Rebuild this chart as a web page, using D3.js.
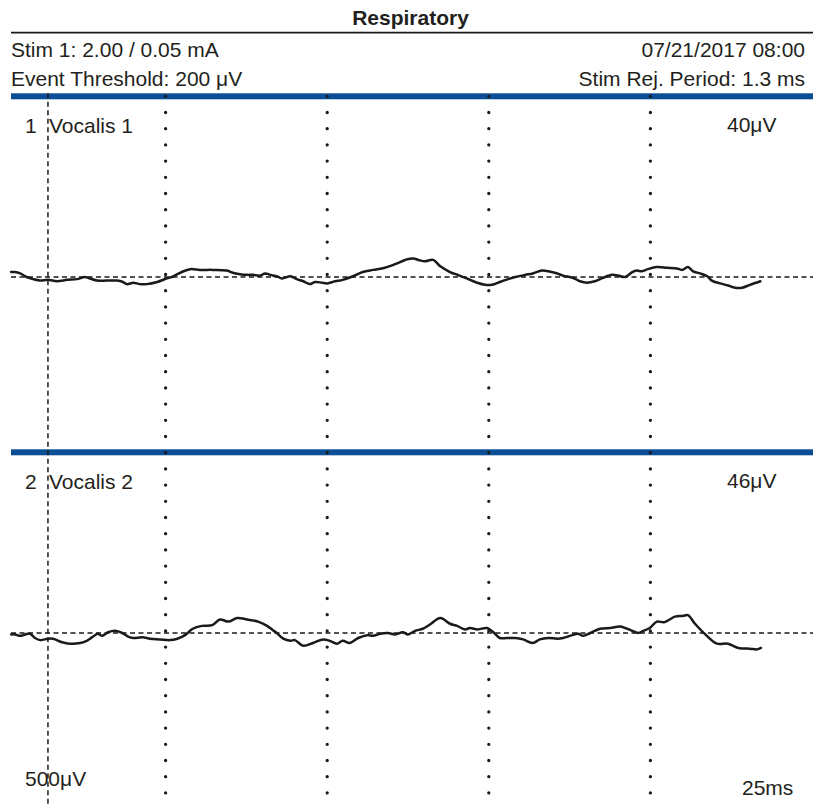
<!DOCTYPE html>
<html>
<head>
<meta charset="utf-8">
<script src="https://cdn.jsdelivr.net/npm/d3@7"></script>
<style>
  html, body { margin: 0; padding: 0; background: #fff; }
  svg { display: block; }
  text { font-family: "Liberation Sans", Arial, Helvetica, sans-serif; fill: #231f20; }
</style>
</head>
<body>
<svg id="chart" width="813" height="806"></svg>
<script>
// ---------- data ----------
const title = "Respiratory";
const headerLeft = ["Stim 1: 2.00 / 0.05 mA", "Event Threshold: 200 \u03BCV"];
const headerRight = ["07/21/2017 08:00", "Stim Rej. Period: 1.3 ms"];
const channelNumbers = ["1", "2"];
const channelNames = ["Vocalis 1", "Vocalis 2"];
const amplitudeLabels = ["40\u03BCV", "46\u03BCV"];
const sensitivityLabel = "500\u03BCV";
const sweepLabel = "25ms";
const timeDomainMs = [0, 125];
const gridTicksMs = [25, 50, 75, 100];
const stimMarkerMs = 6.8;
const sensitivityUv = 500;

const trace1Ms = [1.1,1.7,2.5,3.5,4.5,5.6,6.8,8.2,9.8,11.3,12.5,13.3,14.4,15.9,17.5,18.4,19.0,20.0,21.0,22.1,23.7,25.2,26.2,27.5,28.8,30.3,32.3,34.5,35.4,36.5,37.6,38.5,39.6,40.4,
  41.2,42.2,43.0,44.3,45.3,46.3,47.3,48.1,49.2,50.0,51.2,52.4,54.0,55.5,57.1,58.9,60.5,62.4,63.3,64.1,65.1,66.4,67.5,69.0,70.2,71.6,73.2,74.4,75.5,76.7,78.0,79.1,80.6,81.8,83.2,84.2,
  85.6,86.5,88.0,89.1,90.2,91.4,92.7,94.1,95.0,96.1,97.2,97.9,98.7,99.6,101.0,102.6,104.1,104.9,105.8,106.6,107.7,108.8,109.5,110.8,112.0,113.1,114.2,115.4,117.0];
const trace1Uv = [7,7,5,0,-3,-5,-4,-6,-4,-3,0,-2,-5,-5,-5,-7,-10,-8,-10,-10,-7,-2,1,7,11,10,10,9,6,4,3,3,2,5,
  3,1,-2,1,-3,-6,-10,-7,-8,-9,-6,-4,1,7,10,13,18,25,26,24,22,24,15,7,3,-2,-8,-11,-11,-7,-3,0,3,5,9,8,
  5,2,-1,-6,-8,-6,-1,3,2,0,7,9,8,11,14,13,12,10,14,8,5,1,-5,-9,-12,-15,-15,-11,-6];

const trace2Ms = [1.1,1.7,2.5,3.3,4.0,4.8,5.6,6.8,7.6,9.0,10.2,11.8,12.8,13.8,14.5,15.2,16.1,17.2,18.3,19.2,20.0,21.4,22.6,24.1,25.7,26.8,28.0,29.2,30.6,32.2,33.4,34.7,36.1,37.6,39.3,40.7,41.6,
  42.2,43.2,44.3,45.0,46.3,47.8,49.4,50.4,51.5,52.4,53.5,54.8,56.2,57.1,58.2,59.4,60.5,61.7,62.5,63.6,64.8,65.9,67.5,69.0,70.1,71.3,72.1,73.3,74.7,75.7,76.7,77.8,79.1,80.3,81.8,82.9,84.2,
  85.6,86.5,87.9,88.8,89.6,90.7,92.2,93.8,95.3,96.1,97.2,98.1,98.9,99.9,101.0,102.0,102.6,103.8,105.0,105.8,106.9,108.5,110.3,112.0,113.6,115.4,116.5,117.1];
const trace2Uv = [-2,-2,-4,-2,-1,-7,-10,-8,-8,-13,-15,-14,-11,-5,-1,-4,1,3,0,-5,-7,-6,-8,-9,-10,-8,-3,6,10,11,19,16,21,19,16,10,4,
  0,-8,-11,-10,-18,-14,-9,-11,-15,-11,-14,-7,-3,-4,-1,0,-2,1,-2,3,6,12,21,13,10,5,7,5,7,1,-7,-7,-7,-9,-14,-9,-7,
  -8,-7,-3,-1,-4,0,6,7,9,7,3,0,3,7,16,15,17,23,24,25,13,-2,-15,-15,-21,-22,-23,-21];

// ---------- layout ----------
const W = 813, H = 806;
const panelTops = [96.3, 452.3];
const panelH = 356;
const baseOffset = 180.7;
const blue = "#0b4e96";
const ink = "#1a1a1a";

const svg = d3.select("#chart");

const x = d3.scaleLinear().domain(timeDomainMs).range([4, 812]);
const yScales = panelTops.map(t => d3.scaleLinear()
  .domain([-sensitivityUv / 2, sensitivityUv / 2])
  .range([t + baseOffset + panelH / 2, t + baseOffset - panelH / 2]));

// Title
svg.append("text").attr("x", 410.5).attr("y", 25).attr("text-anchor", "middle")
  .attr("font-size", 21).attr("font-weight", "bold").text(title);
svg.append("line").attr("x1", 11).attr("x2", W).attr("y1", 32.7).attr("y2", 32.7)
  .attr("stroke", ink).attr("stroke-width", 1.8);

// Header info
const headerY = [56.5, 86];
headerLeft.forEach((t, i) => svg.append("text").attr("x", 11).attr("y", headerY[i])
  .attr("font-size", 21).text(t));
headerRight.forEach((t, i) => svg.append("text").attr("x", 805).attr("y", headerY[i])
  .attr("text-anchor", "end").attr("font-size", 21).text(t));

// Blue panel separators
panelTops.forEach(t => svg.append("rect").attr("x", 11).attr("y", t - 3).attr("width", W - 11)
  .attr("height", 6).attr("fill", blue));

// Baselines (dashed)
yScales.forEach(y => svg.append("line").attr("x1", 11).attr("x2", W)
  .attr("y1", y(0)).attr("y2", y(0))
  .attr("stroke", ink).attr("stroke-width", 1.6).attr("stroke-dasharray", "5,3.5"));

// Dotted time grid
svg.append("g").selectAll("line").data(gridTicksMs).join("line")
  .attr("x1", d => x(d)).attr("x2", d => x(d))
  .attr("y1", panelTops[0]).attr("y2", 800)
  .attr("stroke", ink).attr("stroke-width", 3.3)
  .attr("stroke-linecap", "round").attr("stroke-dasharray", "0,16.2");

// Stimulus marker (dashed vertical)
svg.append("line").attr("x1", x(stimMarkerMs)).attr("x2", x(stimMarkerMs))
  .attr("y1", panelTops[0] - 3).attr("y2", H)
  .attr("stroke", ink).attr("stroke-width", 1.5).attr("stroke-dasharray", "5,3.5");

// Traces
const traces = [[trace1Ms, trace1Uv], [trace2Ms, trace2Uv]];
traces.forEach(([ms, uv], i) => {
  const y = yScales[i];
  const line = d3.line().x(d => x(d[0])).y(d => y(d[1])).curve(d3.curveCatmullRom.alpha(0.5));
  svg.append("path").datum(ms.map((m, k) => [m, uv[k]]))
    .attr("d", line).attr("fill", "none").attr("stroke", ink)
    .attr("stroke-width", 2.5).attr("stroke-linejoin", "round").attr("stroke-linecap", "round");
});

// Channel labels
panelTops.forEach((t, i) => {
  const by = t + 36.8;
  svg.append("text").attr("x", 25).attr("y", by).attr("font-size", 21).text(channelNumbers[i]);
  svg.append("text").attr("x", 49).attr("y", by).attr("font-size", 21).text(channelNames[i]);
  svg.append("text").attr("x", 727).attr("y", by - 1).attr("font-size", 21).text(amplitudeLabels[i]);
});

// Bottom scale labels
svg.append("text").attr("x", 25).attr("y", 786).attr("font-size", 21).text(sensitivityLabel);
svg.append("text").attr("x", 742).attr("y", 795).attr("font-size", 21).text(sweepLabel);
</script>
</body>
</html>
